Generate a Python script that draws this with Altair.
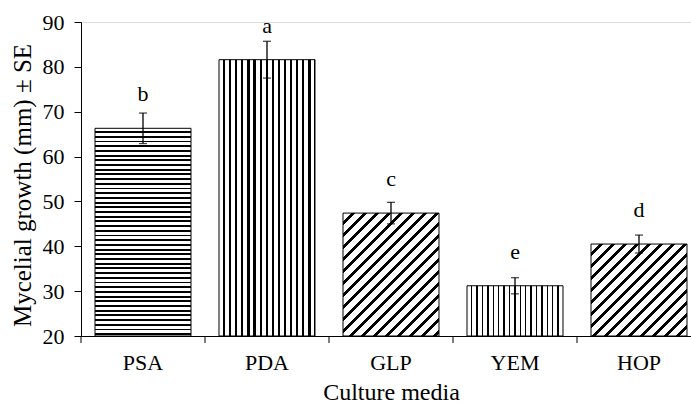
import altair as alt
import pandas as pd

# Mycelial growth per culture medium (mean ± SE) with significance letters
media = ["PSA", "PDA", "GLP", "YEM", "HOP"]
growth = [66.3, 81.6, 47.4, 31.2, 40.5]
se = [3.4, 4.1, 2.4, 1.8, 2.0]
letters = ["b", "a", "c", "e", "d"]
hatch = ["horizontal", "vertical", "diagonal", "vertical_fine", "diagonal"]

Y_MIN, Y_MAX = 20, 90
PLOT_W, PLOT_H = 610, 314
STEP = 124            # band width in px
BAR_FRAC = 0.774      # bar width as fraction of the band
FONT = "Liberation Serif"

df = pd.DataFrame({"media": media, "growth": growth, "se": se, "letter": letters})
df["lo"] = df["growth"] - df["se"]
df["hi"] = df["growth"] + df["se"]


def stripe_stops(period, dark):
    """Hard-edged white/black stops repeating every `period` (0..1)."""
    stops = []
    k = 0
    while k * period < 1:
        a = k * period
        b = min(a + period * (1 - dark), 1.0)
        c = min((k + 1) * period, 1.0)
        stops += [(a, "#ffffff"), (b, "#ffffff"), (b, "#000000"), (c, "#000000")]
        k += 1
    return [{"offset": round(o, 5), "color": col} for o, col in stops]


def hatch_fill(kind, value):
    w = STEP * BAR_FRAC
    h = (value - Y_MIN) / (Y_MAX - Y_MIN) * PLOT_H
    if kind == "horizontal":
        return {"gradient": "linear", "x1": 0, "y1": 0, "x2": 0, "y2": 1,
                "stops": stripe_stops(4.7 / h, 0.4)}
    if kind == "vertical":
        return {"gradient": "linear", "x1": 0, "y1": 0, "x2": 1, "y2": 0,
                "stops": stripe_stops(6.1 / w, 0.36)}
    if kind == "vertical_fine":
        return {"gradient": "linear", "x1": 0, "y1": 0, "x2": 1, "y2": 0,
                "stops": stripe_stops(5.4 / w, 0.26)}
    # "/" diagonal hatch at 45 degrees in screen space
    k = (w + h) / (w * w + h * h)
    return {"gradient": "linear", "x1": 0, "y1": 0, "x2": k * w, "y2": k * h,
            "stops": stripe_stops(12.0 / (w + h), 0.3)}


x_scale = alt.Scale(domain=media, range=[0, STEP * len(media)],
                    paddingInner=0, paddingOuter=0)
y_scale = alt.Scale(domain=[Y_MIN, Y_MAX], nice=False, zero=False)

x_enc = alt.X(
    "media:N", sort=media, scale=x_scale,
    axis=alt.Axis(
        title="Culture media", labelAngle=0, ticks=False, tickSize=0,
        labelPadding=16, labelFont=FONT, labelFontSize=22, labelColor="black",
        domainColor="black", domainWidth=1,
        titleFont=FONT, titleFontSize=24, titleFontWeight="normal",
        titleColor="black", titleBaseline="alphabetic", titleY=63,
        grid=False,
    ),
)
y_axis = alt.Axis(
    title="Mycelial growth (mm) ± SE", values=list(range(20, 91, 10)),
    tickSize=7, tickColor="black", tickWidth=1, labelPadding=10,
    labelFont=FONT, labelFontSize=22, labelColor="black",
    domainColor="black", domainWidth=1, grid=False,
    titleFont=FONT, titleFontSize=25, titleFontWeight="normal",
    titleColor="black", titleBaseline="alphabetic", titleAngle=270,
    titleX=-51, titleY=163, titleAlign="center",
)

base = alt.Chart(df)

bars = []
for m, v, kind in zip(media, growth, hatch):
    bars.append(
        base.transform_filter(alt.datum.media == m)
        .mark_bar(fill=hatch_fill(kind, v), stroke="black", strokeWidth=1,
                  width=alt.RelativeBandSize(BAR_FRAC))
        .encode(x=x_enc, y=alt.Y("growth:Q", scale=y_scale, axis=y_axis),
                y2=alt.datum(Y_MIN))
    )

err = base.mark_rule(color="black", strokeWidth=1.3).encode(
    x=x_enc, y=alt.Y("lo:Q", scale=y_scale, axis=y_axis), y2="hi:Q")
cap_hi = base.mark_tick(color="black", size=8, thickness=1.3).encode(
    x=x_enc, y=alt.Y("hi:Q", scale=y_scale, axis=y_axis))
cap_lo = base.mark_tick(color="black", size=8, thickness=1.3).encode(
    x=x_enc, y=alt.Y("lo:Q", scale=y_scale, axis=y_axis))

labels = base.mark_text(font=FONT, fontSize=22, color="black",
                        baseline="alphabetic", dy=-27).encode(
    x=x_enc, y=alt.Y("growth:Q", scale=y_scale, axis=y_axis), text="letter:N")

# category boundary ticks below the x axis
bound_ticks = base.mark_rule(color="black", strokeWidth=1).encode(
    x=alt.X("media:N", sort=media, scale=x_scale, bandPosition=0),
    y=alt.value(PLOT_H), y2=alt.value(PLOT_H + 7))

chart = (
    alt.layer(*bars, err, cap_hi, cap_lo, labels, bound_ticks)
    .properties(width=PLOT_W, height=PLOT_H,
                autosize=alt.AutoSizeParams(type="none"),
                padding={"left": 81, "top": 22, "right": 0, "bottom": 67})
    .configure_view(stroke=None)
    .configure(background="white")
)

chart.save("out.html", embed_options={"renderer": "svg", "actions": False})
